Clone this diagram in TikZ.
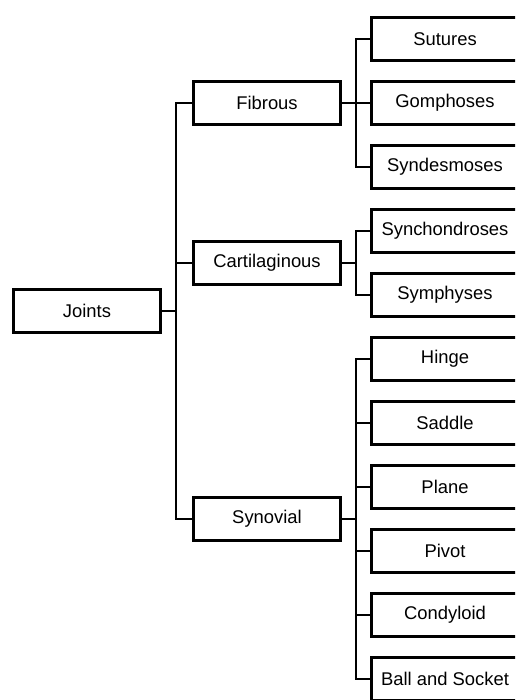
\documentclass[tikz,border=0pt]{standalone}
\usepackage{fontspec}
\setmainfont{Liberation Sans}
\usetikzlibrary{positioning}
\tikzset{
  jointbox/.style={draw=black,line width=3pt,fill=white,minimum width=147pt,minimum height=43pt,inner sep=0pt,font=\fontsize{18.4}{22}\selectfont},
  link/.style={draw=black,line width=1.5pt}
}
\begin{document}
\begin{tikzpicture}[x=1pt,y=-1pt]
\clip (0,0) rectangle (515,700);
\node[jointbox] (joints) at (87,311) {Joints};
\node[jointbox] (fibrous) at (267,103) {Fibrous};
\node[jointbox] (cartilaginous) at (267,263) {Cartilaginous};
\node[jointbox] (synovial) at (267,519) {Synovial};
\foreach \name/\txt [count=\i from 0] in {sutures/Sutures,gomphoses/Gomphoses,syndesmoses/Syndesmoses,synchondroses/Synchondroses,symphyses/Symphyses,hinge/Hinge,saddle/Saddle,plane/Plane,pivot/Pivot,condyloid/Condyloid,ballsocket/Ball and Socket}
  \node[jointbox] (\name) at (445,39+64*\i) {\txt};
\foreach \kind in {fibrous,cartilaginous,synovial}
  \draw[link] (joints.east) -- ++(14,0) |- (\kind);
\foreach \leaf in {sutures,gomphoses,syndesmoses}
  \draw[link] (fibrous.east) -- ++(14,0) |- (\leaf);
\foreach \leaf in {synchondroses,symphyses}
  \draw[link] (cartilaginous.east) -- ++(14,0) |- (\leaf);
\foreach \leaf in {hinge,saddle,plane,pivot,condyloid,ballsocket}
  \draw[link] (synovial.east) -- ++(14,0) |- (\leaf);
\end{tikzpicture}
\end{document}
